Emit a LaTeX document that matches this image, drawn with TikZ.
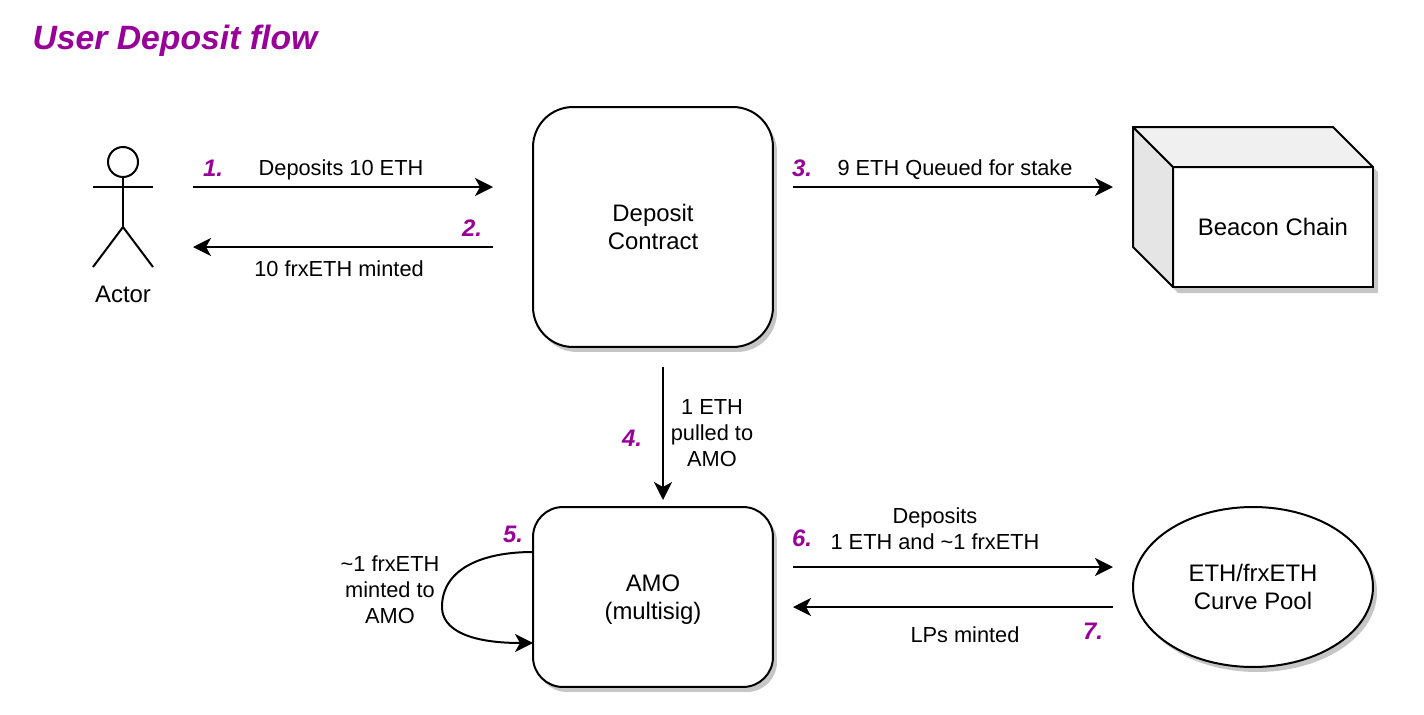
\documentclass[tikz,border=0pt]{standalone}
\usepackage{fontspec}
\setmainfont{Liberation Sans}
\usepackage{xcolor}
\usetikzlibrary{positioning,calc,shapes.geometric,shadows,arrows.meta}
\definecolor{steppurple}{HTML}{990099}
\definecolor{shadowgray}{HTML}{C6C6C6}
\tikzset{
    base/.style={line width=0.04cm, draw=black},
    shade3/.style={drop shadow={shadow xshift=0.08cm, shadow yshift=-0.1cm, fill=shadowgray, opacity=1}},
    roundbox/.style={base, rounded corners=0.8cm, fill=white, shade3, minimum width=4.8cm, align=center, inner sep=0pt, outer sep=0pt},
    flow/.style={line width=0.04cm, -{Stealth[length=0.36cm, width=0.36cm, inset=0.1cm]}},
    lbl/.style={align=center, inner sep=0pt, font=\fontsize{12.4}{14.7}\selectfont},
    stepnum/.style={text=steppurple, font=\fontsize{13.6}{15}\selectfont\bfseries\itshape, inner sep=0pt}
}
\begin{document}
\begin{tikzpicture}[x=0.02cm, y=-0.02cm, font=\fontsize{13.6}{15.9}\selectfont]
    \useasboundingbox (0,0) rectangle (1424,714);

    \node[text=steppurple, font=\fontsize{19.2}{22}\selectfont\bfseries\itshape, inner sep=0pt] (title) at (175,41) {User Deposit flow};

    % actor
    \node[base, circle, minimum size=0.6cm, inner sep=0pt, outer sep=0pt] (head) at (123,162) {};
    \coordinate (hip) at (123,227);
    \draw[base] (head.south) -- (hip);
    \draw[base] (93,187) -- (153,187);
    \draw[base] (93,267) -- (hip) -- (153,267);
    \node[lbl, font=\fontsize{13.6}{15.9}\selectfont] (actor) at (123,294) {Actor};

    % boxes
    \node[roundbox, minimum height=4.8cm] (deposit) at (653,227) {Deposit\\Contract};
    \node[roundbox, rounded corners=0.6cm, minimum height=3.6cm] (amo) at (653,597) {AMO\\\smash{(multisig)}};
    \node[base, ellipse, fill=white, shade3, minimum width=4.8cm, minimum height=3.2cm, align=center, inner sep=0pt, outer sep=0pt] (pool) at (1253,587) {ETH/frxETH\\Curve Pool};

    % beacon chain cube
    \fill[shadowgray] (1137,132) -- (1337,132) -- (1378,172) -- (1378,293) -- (1178,293) -- (1137,252) -- cycle;
    \node[base, fill=white, minimum width=4cm, minimum height=2.4cm, inner sep=0pt, outer sep=0pt] (beacon) at (1273,227) {Beacon Chain};
    \coordinate (backtl) at (1133,127);
    \coordinate (backtr) at (1333,127);
    \coordinate (backbl) at (1133,247);
    \draw[base, line join=round, fill=black!10] (backtl) -- (beacon.north west) -- (beacon.south west) -- (backbl) -- cycle;
    \draw[base, line join=round, fill=black!6] (backtl) -- (backtr) -- (beacon.north east) -- (beacon.north west) -- cycle;

    % free ends of the arrows
    \coordinate (a1) at (193,187);
    \coordinate (b1) at (493,187);
    \coordinate (a2) at (493,247);
    \coordinate (b2) at (193,247);
    \coordinate (a3) at (793,187);
    \coordinate (b3) at (1113,187);
    \coordinate (a4) at (663,367);
    \coordinate (b4) at (663,500);
    \coordinate (a6) at (793,567);
    \coordinate (b6) at (1113,567);
    \coordinate (a7) at (1113,607);
    \coordinate (b7) at (793,607);

    \draw[flow] (a1) -- (b1);
    \draw[flow] (a2) -- (b2);
    \draw[flow] (a3) -- (b3);
    \draw[flow] (a4) -- (b4);
    \draw[flow] (a6) -- (b6);
    \draw[flow] (a7) -- (b7);
    \draw[flow] ($(amo.west)+(0,-45)$) .. controls (480,552) and (442,570) .. (442,607) .. controls (442,630) and (470,643) .. ($(amo.west)+(0,46)$);

    % labels
    \node[lbl] (l1) at (341,170) {Deposits 10 ETH};
    \node[lbl] (l2) at (339,269) {10 frxETH minted};
    \node[lbl] (l3) at (955,170) {9 ETH Queued for stake};
    \node[lbl] (l4) at (712,433) {1 ETH\\pulled to\\AMO};
    \node[lbl] (l5) at (390,590) {\textasciitilde1 frxETH\\minted to\\AMO};
    \node[lbl] (l6) at (935,529) {Deposits\\1 ETH and \textasciitilde1 frxETH};
    \node[lbl] (l7) at (965,635) {LPs minted};

    % step numbers
    \node[stepnum] (n1) at (213,168) {1.};
    \node[stepnum] (n2) at (472,228) {2.};
    \node[stepnum] (n3) at (802,168) {3.};
    \node[stepnum] (n4) at (632,438) {4.};
    \node[stepnum] (n5) at (513,534) {5.};
    \node[stepnum] (n6) at (802,538) {6.};
    \node[stepnum] (n7) at (1093,631) {7.};
\end{tikzpicture}
\end{document}
